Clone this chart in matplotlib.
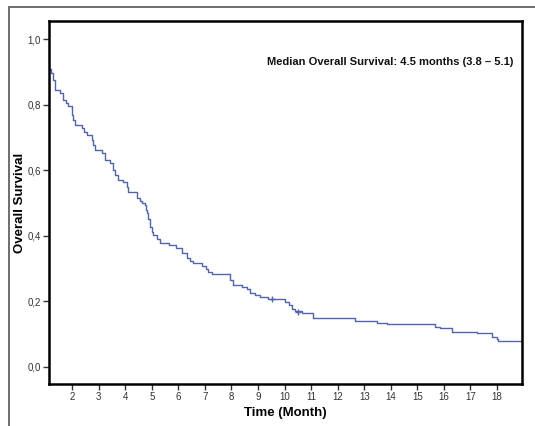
import matplotlib
matplotlib.use("Agg")
import matplotlib.pyplot as plt
from matplotlib.lines import Line2D

plt.rcParams['font.family'] = ['Liberation Sans', 'DejaVu Sans']

# Kaplan-Meier step data (time in months, survival after each event)
start_time = 1.13
start_surv = 0.91
event_times = [1.20, 1.28, 1.36, 1.55, 1.67, 1.78, 1.86, 1.99, 2.05, 2.11,
               2.36, 2.45, 2.55, 2.74, 2.80, 2.87, 3.12, 3.24, 3.43, 3.55,
               3.62, 3.74, 3.93, 4.05, 4.12, 4.44, 4.55, 4.62, 4.75, 4.78,
               4.81, 4.87, 4.94, 5.00, 5.06, 5.19, 5.31, 5.63, 5.90, 6.13,
               6.32, 6.45, 6.57, 6.88, 7.05, 7.13, 7.26, 7.95, 8.07, 8.39,
               8.58, 8.70, 8.89, 9.08, 9.39, 10.02, 10.15, 10.27, 10.40, 10.65,
               11.06, 12.65, 13.47, 13.85, 15.67, 15.86, 16.30, 17.24, 17.80, 17.99,
               18.05]
survival = [0.895, 0.875, 0.846, 0.836, 0.815, 0.805, 0.795, 0.769, 0.752, 0.738,
            0.728, 0.718, 0.708, 0.692, 0.678, 0.662, 0.651, 0.631, 0.621, 0.600,
            0.585, 0.570, 0.565, 0.548, 0.534, 0.514, 0.505, 0.499, 0.494, 0.480,
            0.469, 0.450, 0.428, 0.412, 0.402, 0.390, 0.377, 0.372, 0.362, 0.347,
            0.331, 0.322, 0.316, 0.308, 0.298, 0.291, 0.283, 0.265, 0.250, 0.245,
            0.237, 0.227, 0.220, 0.214, 0.206, 0.199, 0.189, 0.176, 0.172, 0.166,
            0.150, 0.141, 0.135, 0.130, 0.123, 0.118, 0.108, 0.103, 0.092, 0.084,
            0.079]
end_time = 18.94
censor_times = [9.52, 10.52]
censor_surv = [0.206, 0.169]

x_ticks = list(range(2, 19))
x_tick_labels = [str(v) for v in x_ticks]
y_ticks = [0.0, 0.2, 0.4, 0.6, 0.8, 1.0]
y_tick_labels = ['0,0', '0,2', '0,4', '0,6', '0,8', '1,0']

annotation = "Median Overall Survival: 4.5 months (3.8 \u2013 5.1)"

W, H = 535, 426
fig = plt.figure(figsize=(W / 100, H / 100), dpi=100)
fig.patch.set_facecolor('white')

# outer gray frame
fx = 8.5 / W
fy = 1 - 6.5 / H
fig.add_artist(Line2D([fx, 1.0], [fy, fy], transform=fig.transFigure, color='#6e6e6e', lw=1.4))
fig.add_artist(Line2D([fx, fx], [0.0, fy], transform=fig.transFigure, color='#6e6e6e', lw=1.4))

left, right, top, bottom = 49, 522, 21, 384
ax = fig.add_axes([left / W, 1 - bottom / H, (right - left) / W, (bottom - top) / H])

xs = [start_time] + event_times + [end_time]
ys = [start_surv] + survival + [survival[-1]]
ax.step(xs, ys, where='post', color='#5064b0', lw=1.0)
ax.plot(censor_times, censor_surv, linestyle='none', marker='+', color='#5064b0',
        markersize=5, markeredgewidth=1.0)

ax.set_xlim(1.13, 18.94)
ax.set_ylim(-0.052, 1.055)
ax.set_xticks(x_ticks)
ax.set_xticklabels(x_tick_labels)
ax.set_yticks(y_ticks)
ax.set_yticklabels(y_tick_labels)

for s in ax.spines.values():
    s.set_linewidth(1.8)
    s.set_color('black')
ax.tick_params(axis='both', direction='out', length=4, width=1.0, color='#333333',
               labelsize=7, labelcolor='#333333', pad=2)

ax.set_xlabel('Time (Month)', fontsize=9.5, fontweight='bold')
ax.set_ylabel('Overall Survival', fontsize=9.5, fontweight='bold')
ax.xaxis.set_label_coords(0.5, -(413 - bottom) / (bottom - top))
ax.yaxis.set_label_coords(-(left - 20) / (right - left), 0.5)
ax.xaxis.label.set_va('center')
ax.yaxis.label.set_va('center')

ax.text((513 - left) / (right - left), 1 - (62 - top) / (bottom - top), annotation,
        transform=ax.transAxes, ha='right', va='center', fontsize=8, fontweight='bold',
        color='#111111')

fig.savefig('out.png', dpi=100, facecolor='white')
